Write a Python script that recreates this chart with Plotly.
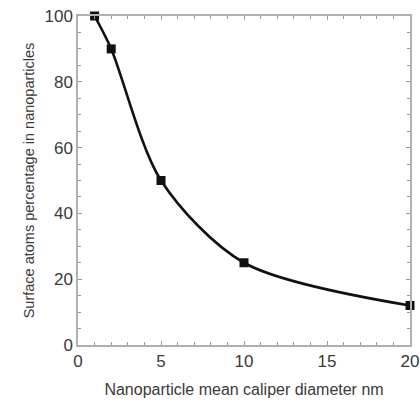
import plotly.graph_objects as go

diameter_nm = [1, 2, 5, 10, 20]
surface_pct = [100, 90, 50, 25, 12]

x_title = "Nanoparticle mean caliper diameter nm"
y_title = "Surface atoms percentage in nanoparticles"

fig = go.Figure()
fig.add_trace(go.Scatter(
    x=diameter_nm, y=surface_pct, mode="lines+markers",
    line=dict(color="#111111", width=2.6, shape="spline", smoothing=0.85),
    marker=dict(symbol="square", size=9, color="#111111"),
    cliponaxis=False, showlegend=False,
))

axis_common = dict(
    showline=True, linecolor="#b0b0b0", linewidth=1.5, mirror="ticks",
    ticks="inside", ticklen=4, tickcolor="#9a9a9a", tickwidth=1,
    showgrid=False, zeroline=False, automargin=False,
    tickfont=dict(family="Liberation Sans, Arial, sans-serif", size=17, color="#3a3a3a"),
)

fig.update_xaxes(
    range=[0, 20], tickmode="linear", tick0=0, dtick=5,
    minor=dict(dtick=1, ticks="inside", ticklen=3, tickcolor="#9a9a9a", showgrid=False),
    title=dict(text=x_title, font=dict(family="Liberation Sans, Arial, sans-serif", size=16, color="#3a3a3a"), standoff=14),
    **axis_common,
)
fig.update_yaxes(
    range=[0, 100], tickmode="linear", tick0=0, dtick=20,
    minor=dict(dtick=5, ticks="inside", ticklen=3, tickcolor="#9a9a9a", showgrid=False),
    title=dict(text=y_title, font=dict(family="Liberation Sans, Arial, sans-serif", size=14.5, color="#3a3a3a"), standoff=6),
    **axis_common,
)

fig.update_layout(
    template="none",
    width=420, height=403,
    margin=dict(l=78, r=10, t=16, b=58),
    paper_bgcolor="white", plot_bgcolor="white",
)

fig.write_html("out.html")
